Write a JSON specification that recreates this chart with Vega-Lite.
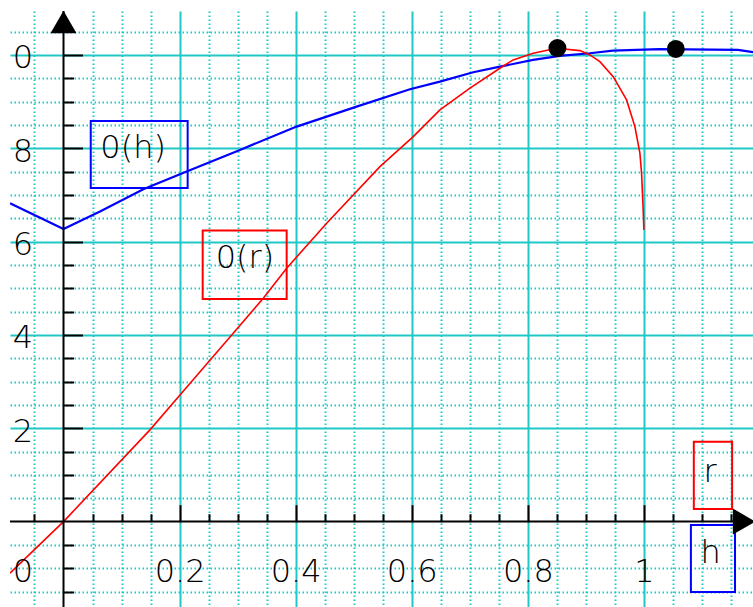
{
  "$schema": "https://vega.github.io/schema/vega-lite/v6.json",
  "width": 743,
  "height": 596,
  "autosize": {"type": "none"},
  "padding": {"left": 10, "top": 11, "right": 0, "bottom": 0},
  "background": "white",
  "config": {"view": {"stroke": null}},
  "datasets": {
    "blue": [
      {"h": -0.0922, "o": 6.822},
      {"h": 0.0, "o": 6.271},
      {"h": 0.0629, "o": 6.642},
      {"h": 0.1375, "o": 7.122},
      {"h": 0.2122, "o": 7.499},
      {"h": 0.304, "o": 7.964},
      {"h": 0.4017, "o": 8.463},
      {"h": 0.505, "o": 8.891},
      {"h": 0.5969, "o": 9.264},
      {"h": 0.6486, "o": 9.427},
      {"h": 0.706, "o": 9.628},
      {"h": 0.752, "o": 9.748},
      {"h": 0.809, "o": 9.892},
      {"h": 0.8553, "o": 9.978},
      {"h": 0.907, "o": 10.035},
      {"h": 0.9466, "o": 10.091},
      {"h": 1.0274, "o": 10.121},
      {"h": 1.1619, "o": 10.106},
      {"h": 1.188, "o": 10.057}
    ],
    "red": [
      {"r": -0.0922, "o": -1.106},
      {"r": 0.0, "o": 0.0},
      {"r": 0.149, "o": 1.965},
      {"r": 0.2007, "o": 2.714},
      {"r": 0.2898, "o": 4.0},
      {"r": 0.3442, "o": 4.786},
      {"r": 0.3845, "o": 5.429},
      {"r": 0.4534, "o": 6.393},
      {"r": 0.5452, "o": 7.606},
      {"r": 0.6026, "o": 8.249},
      {"r": 0.6486, "o": 8.821},
      {"r": 0.7003, "o": 9.286},
      {"r": 0.7519, "o": 9.714},
      {"r": 0.7748, "o": 9.892},
      {"r": 0.8093, "o": 10.035},
      {"r": 0.8496, "o": 10.143},
      {"r": 0.8898, "o": 10.091},
      {"r": 0.907, "o": 9.999},
      {"r": 0.9242, "o": 9.855},
      {"r": 0.9471, "o": 9.534},
      {"r": 0.9702, "o": 9.035},
      {"r": 0.9845, "o": 8.463},
      {"r": 0.9931, "o": 7.893},
      {"r": 0.996, "o": 7.464},
      {"r": 0.9988, "o": 6.678},
      {"r": 1.0, "o": 6.25}
    ],
    "pts": [
      {"x": 0.851, "y": 10.145},
      {"x": 1.055, "y": 10.127}
    ],
    "boxes": [
      {"x": 0.0469, "x2": 0.2139, "y": 7.15, "y2": 8.585, "c": "#0000ff"},
      {"x": 0.2398, "x2": 0.3845, "y": 4.771, "y2": 6.235, "c": "#ff0000"},
      {"x": 1.086, "x2": 1.152, "y": 0.272, "y2": 1.708, "c": "#ff0000"},
      {"x": 1.081, "x2": 1.157, "y": -1.506, "y2": -0.071, "c": "#0000ff"}
    ],
    "texts": [
      {"x": 0.1199, "y": 7.996, "t": "0(h)"},
      {"x": 0.3127, "y": 5.65, "t": "0(r)"},
      {"x": 1.114, "y": 1.054, "t": "r"},
      {"x": 1.115, "y": -0.67, "t": "h"},
      {"x": -0.0698, "y": -1.078, "t": "0"}
    ],
    "arrows": [
      {"x": 0.0, "y": 10.706, "s": "triangle-up"},
      {"x": 1.1727, "y": 0.0, "s": "triangle-right"}
    ],
    "one": [{"k": 1}]
  },
  "resolve": {"axis": {"x": "independent", "y": "independent"}},
  "layer": [
    {
      "data": {"name": "blue"},
      "mark": {"type": "line", "color": "#0000ff", "strokeWidth": 2.2, "clip": true},
      "encoding": {
        "x": {"field": "h", "type": "quantitative",
          "scale": {"domain": [-0.0922, 1.188], "nice": false, "zero": false},
          "axis": {"orient": "bottom", "grid": true, "domain": false, "ticks": false, "labels": false, "title": null,
            "values": [-0.05, 0.05, 0.1, 0.15, 0.25, 0.3, 0.35, 0.45, 0.5, 0.55, 0.65, 0.7, 0.75, 0.85, 0.9, 0.95, 1.05, 1.1, 1.15],
            "gridColor": "#1fc7c7", "gridWidth": 2, "gridDash": [1.5, 2.5], "gridOpacity": 1, "zindex": 0}},
        "y": {"field": "o", "type": "quantitative",
          "scale": {"domain": [-1.83, 10.94], "nice": false, "zero": false},
          "axis": {"orient": "left", "grid": true, "domain": false, "ticks": false, "labels": false, "title": null,
            "values": [-1.5, -1, -0.5, 0.5, 1, 1.5, 2.5, 3, 3.5, 4.5, 5, 5.5, 6.5, 7, 7.5, 8.5, 9, 9.5, 10.5],
            "gridColor": "#1fc7c7", "gridWidth": 2, "gridDash": [1.5, 2.5], "gridOpacity": 1, "zindex": 0}}
      }
    },
    {
      "data": {"name": "red"},
      "mark": {"type": "line", "color": "#ff0000", "strokeWidth": 1.6, "clip": true},
      "encoding": {
        "x": {"field": "r", "type": "quantitative",
          "axis": {"orient": "bottom", "grid": true, "domain": false, "ticks": false, "labels": false, "title": null,
            "values": [0.2, 0.4, 0.6, 0.8, 1.0],
            "gridColor": "#1fc7c7", "gridWidth": 2, "gridOpacity": 1, "zindex": 0}},
        "y": {"field": "o", "type": "quantitative",
          "axis": {"orient": "left", "grid": true, "domain": false, "ticks": false, "labels": false, "title": null,
            "values": [2, 4, 6, 8, 10],
            "gridColor": "#1fc7c7", "gridWidth": 2, "gridOpacity": 1, "zindex": 0}}
      }
    },
    {
      "data": {"name": "one"},
      "mark": {"type": "rule", "color": "black", "strokeWidth": 2},
      "encoding": {
        "y": {"datum": 0, "type": "quantitative", "axis": null}
      }
    },
    {
      "data": {"name": "one"},
      "mark": {"type": "rule", "color": "black", "strokeWidth": 2},
      "encoding": {
        "x": {"datum": 0, "type": "quantitative", "axis": null}
      }
    },
    {
      "data": {"name": "boxes"},
      "mark": {"type": "rect", "filled": false, "strokeWidth": 2},
      "encoding": {
        "x": {"field": "x", "type": "quantitative",
          "axis": {"orient": "bottom", "offset": -85.3, "grid": false, "domain": false, "labels": false, "title": null,
            "ticks": true, "tickSize": -8, "tickWidth": 2, "tickColor": "black",
            "values": [-0.05, 0.05, 0.1, 0.15, 0.25, 0.3, 0.35, 0.45, 0.5, 0.55, 0.65, 0.7, 0.75, 0.85, 0.9, 0.95, 1.05, 1.1, 1.15],
            "zindex": 1}},
        "x2": {"field": "x2"},
        "y": {"field": "y", "type": "quantitative",
          "axis": {"orient": "left", "offset": -53.5, "grid": false, "domain": false, "labels": false, "title": null,
            "ticks": true, "tickSize": -10, "tickWidth": 2, "tickColor": "black",
            "values": [-1.5, -1, -0.5, 0.5, 1, 1.5, 2.5, 3, 3.5, 4.5, 5, 5.5, 6.5, 7, 7.5, 8.5, 9, 9.5],
            "zindex": 1}},
        "y2": {"field": "y2"},
        "stroke": {"field": "c", "type": "nominal", "scale": null}
      }
    },
    {
      "data": {"name": "texts"},
      "mark": {"type": "text", "font": "DejaVu Sans", "fontSize": 32, "fontWeight": 200, "color": "black", "baseline": "middle", "align": "center"},
      "encoding": {
        "x": {"field": "x", "type": "quantitative",
          "axis": {"orient": "bottom", "offset": -85.3, "grid": false, "domain": false, "labels": false, "title": null,
            "ticks": true, "tickSize": -17, "tickWidth": 2, "tickColor": "black",
            "values": [0.2, 0.4, 0.6, 0.8, 1.0], "zindex": 1}},
        "y": {"field": "y", "type": "quantitative",
          "axis": {"orient": "left", "offset": -53.5, "grid": false, "domain": false, "labels": false, "title": null,
            "ticks": true, "tickSize": -19, "tickWidth": 2, "tickColor": "black",
            "values": [2, 4, 6, 8, 10], "zindex": 1}},
        "text": {"field": "t"}
      }
    },
    {
      "data": {"name": "arrows"},
      "mark": {"type": "point", "filled": true, "color": "black", "size": 676, "opacity": 1},
      "encoding": {
        "x": {"field": "x", "type": "quantitative",
          "axis": {"orient": "bottom", "offset": -36, "grid": false, "domain": false, "ticks": false, "tickSize": 0, "title": null,
            "values": [0.2, 0.4, 0.6, 0.8, 1.0], "format": "~g",
            "labelFont": "DejaVu Sans", "labelFontSize": 32, "labelFontWeight": 200, "labelColor": "black",
            "labelPadding": 0, "labelBaseline": "middle", "labelAlign": "center", "labelFlush": false, "labelOverlap": false, "zindex": 1}},
        "y": {"field": "y", "type": "quantitative",
          "axis": {"orient": "left", "offset": -12.5, "grid": false, "domain": false, "ticks": false, "tickSize": 0, "title": null,
            "values": [2, 4, 6, 8, 10], "labelExpr": "datum.value == 10 ? '0' : datum.label",
            "labelFont": "DejaVu Sans", "labelFontSize": 32, "labelFontWeight": 200, "labelColor": "black",
            "labelPadding": 0, "labelBaseline": "middle", "labelAlign": "center", "labelOffset": 3, "labelFlush": false, "labelOverlap": false, "zindex": 1}},
        "shape": {"field": "s", "type": "nominal", "scale": null}
      }
    },
    {
      "data": {"name": "pts"},
      "mark": {"type": "circle", "color": "black", "size": 324, "opacity": 1},
      "encoding": {
        "x": {"field": "x", "type": "quantitative", "axis": null},
        "y": {"field": "y", "type": "quantitative", "axis": null}
      }
    }
  ]
}
